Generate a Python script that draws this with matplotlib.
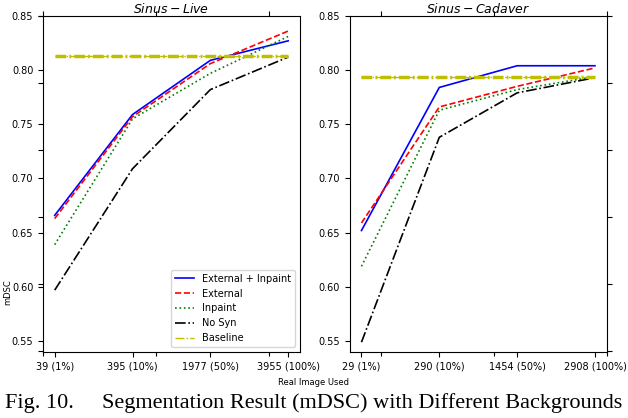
import matplotlib.pyplot as plt

live_labels = ['39 (1%)', '395 (10%)', '1977 (50%)', '3955 (100%)']
cad_labels = ['29 (1%)', '290 (10%)', '1454 (50%)', '2908 (100%)']

live_ext_inp = [0.666, 0.759, 0.809, 0.827]
live_ext = [0.663, 0.757, 0.806, 0.836]
live_inp = [0.639, 0.755, 0.797, 0.831]
live_nosyn = [0.597, 0.709, 0.782, 0.812]
live_base = 0.813

cad_ext_inp = [0.652, 0.784, 0.804, 0.804]
cad_ext = [0.659, 0.766, 0.785, 0.802]
cad_inp = [0.619, 0.763, 0.782, 0.794]
cad_nosyn = [0.549, 0.738, 0.779, 0.793]
cad_base = 0.794

fig = plt.figure(figsize=(6.28, 4.18), dpi=100)

# big axes behind the two panels (only its ticks stick out)
big = fig.add_axes([0.0685, 0.160, 0.898, 0.802], frameon=False)
big.tick_params(labelleft=False, labelbottom=False, top=True, right=True)

ax1 = fig.add_axes([0.0685, 0.158, 0.409, 0.804])
ax2 = fig.add_axes([0.557, 0.158, 0.409, 0.804])


def draw(ax, labels, ei, e, i, ns, base, title, legend=False):
    x = list(range(len(labels)))
    ax.plot(x, ei, 'b-', lw=1.2, label='External + Inpaint')
    ax.plot(x, e, 'r--', lw=1.2, label='External')
    ax.plot(x, i, 'g:', lw=1.2, label='Inpaint')
    ax.plot(x, ns, 'k-.', lw=1.2, label='No Syn')
    ax.plot(x, [base] * len(x), 'y-.', lw=1.0, label='Baseline')
    ax.plot(x, [base] * len(x), color='y', lw=2.5, dashes=(3.1, 0.9, 0.5, 0.9))
    ax.set_xticks(x)
    ax.set_xticklabels(labels, fontsize=7)
    ax.set_ylim(0.54, 0.85)
    ax.set_yticks([0.55, 0.60, 0.65, 0.70, 0.75, 0.80, 0.85])
    ax.tick_params(axis='y', labelsize=7)
    ax.set_title(r'$Sinus-%s$' % title, fontsize=9, pad=2)
    if legend:
        ax.legend(loc='lower right', fontsize=7)


draw(ax1, live_labels, live_ext_inp, live_ext, live_inp, live_nosyn,
     live_base, 'Live', legend=True)
draw(ax2, cad_labels, cad_ext_inp, cad_ext, cad_inp, cad_nosyn,
     cad_base, 'Cadaver')

fig.text(0.5, 0.086, 'Real Image Used', ha='center', va='center', fontsize=6)
fig.text(0.013, 0.30, 'mDSC', ha='center', va='center', rotation=90, fontsize=6)
fig.text(0.5, 0.035, 'Fig. 10.     Segmentation Result (mDSC) with Different Backgrounds',
         ha='center', va='center', fontsize=16, family='Liberation Serif')

plt.savefig('out.png', dpi=100)
